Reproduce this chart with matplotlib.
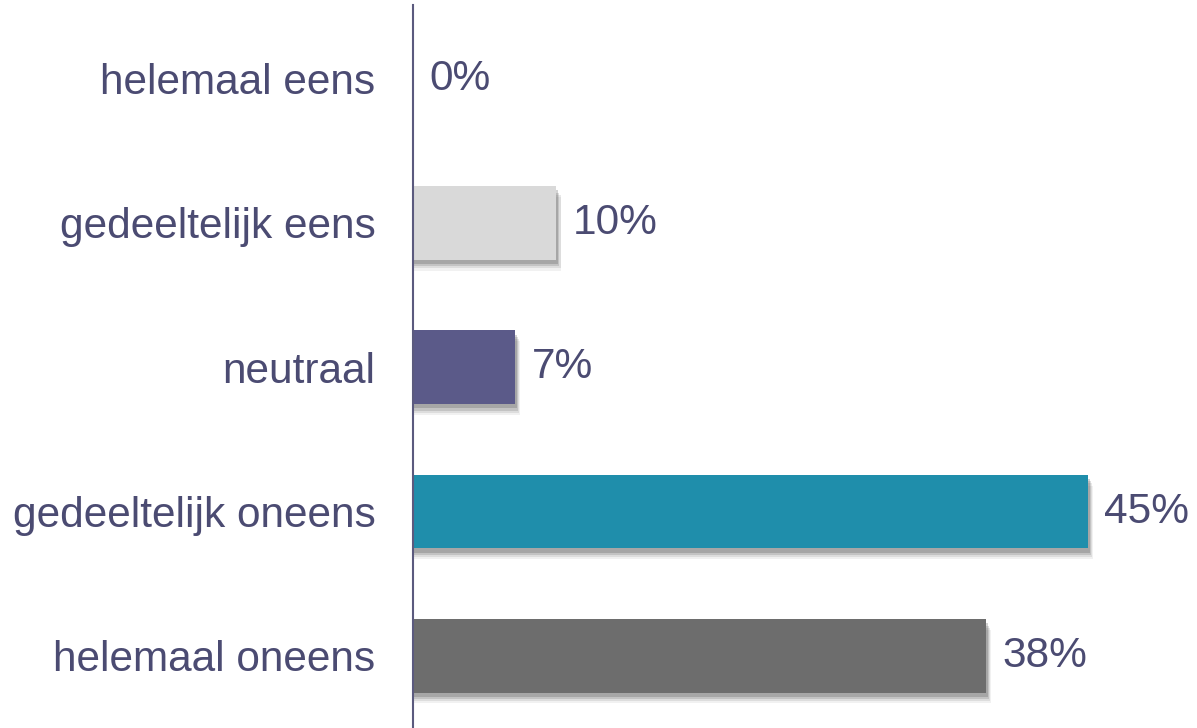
import matplotlib.pyplot as plt

plt.rcParams['font.family'] = ['Liberation Sans', 'DejaVu Sans']

# categorieen van boven naar beneden
categorieen = ['helemaal eens', 'gedeeltelijk eens', 'neutraal',
               'gedeeltelijk oneens', 'helemaal oneens']
waarden = [0, 9.55, 6.8, 45, 38.2]
labels = ['0%', '10%', '7%', '45%', '38%']
kleuren = ['#d9d9d9', '#d9d9d9', '#5b5a89', '#1f8eab', '#6d6d6d']

tekstkleur = '#4b4b72'

fig = plt.figure(figsize=(11.97, 7.28), dpi=100)
ax = fig.add_axes([413 / 1197, 0, 1 - 413 / 1197, 723 / 728])

pos = list(range(len(categorieen)))
hoogte = 0.51

# schaduw onder de balken (een paar verschoven lagen)
for dx, dy, a in [(0.35, 0.075, 0.08), (0.30, 0.060, 0.12),
                  (0.22, 0.045, 0.18), (0.15, 0.030, 0.25)]:
    for p, w in zip(pos, waarden):
        if w > 0:
            ax.barh(p + dy, w + dx, height=hoogte, color='#505050', alpha=a,
                    zorder=1, linewidth=0)

ax.barh(pos, waarden, height=hoogte, color=kleuren, zorder=2, linewidth=0)

for p, w, l in zip(pos, waarden, labels):
    ax.text(w + 1.1, p, l, va='center', ha='left', fontsize=30.5,
            color=tekstkleur)

ax.set_xlim(0, 52.3)
ax.set_ylim(4.5, -0.51)
ax.set_yticks(pos)
ax.set_yticklabels(categorieen, fontsize=30.5, color=tekstkleur)
ax.tick_params(axis='y', length=0, pad=27)
ax.set_xticks([])

for s in ['top', 'right', 'bottom']:
    ax.spines[s].set_visible(False)
ax.spines['left'].set_color('#5b5a7e')
ax.spines['left'].set_linewidth(1.5)

fig.savefig('out.png', dpi=100)
